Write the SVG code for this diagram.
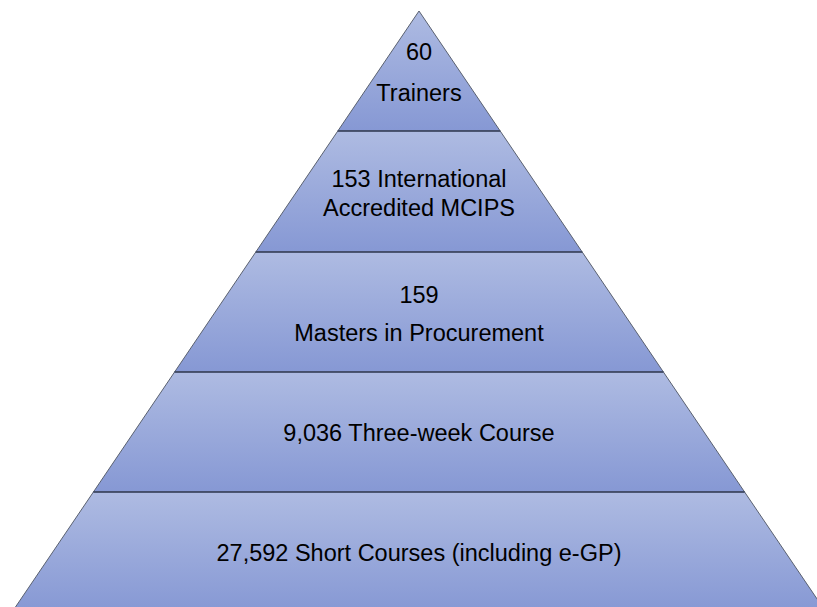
<svg xmlns="http://www.w3.org/2000/svg" width="817" height="607" viewBox="0 0 817 607">
<defs>
<linearGradient id="g" x1="0" y1="0" x2="0" y2="1">
<stop offset="0" stop-color="#AEBBE2"/>
<stop offset="1" stop-color="#8698D4"/>
</linearGradient>
<style>
.layer{fill:url(#g);stroke:#5A6170;stroke-width:1;stroke-linejoin:round}
.sep{stroke:#3A4560;stroke-width:1.6}
text{font-family:"Liberation Sans",Arial,sans-serif;font-size:23.5px;fill:#000;text-anchor:middle}
</style>
</defs>
<rect width="817" height="607" fill="#fff"/>
<g id="layer1"><polygon class="layer" points="419,11 500.2,131 337.8,131"/>
<text x="419" y="60">60</text><text x="419" y="101">Trainers</text></g>
<g id="layer2"><polygon class="layer" points="337.8,131 500.2,131 582.2,252 255.8,252"/>
<text x="419" y="187">153 International</text><text x="419" y="216">Accredited MCIPS</text></g>
<g id="layer3"><polygon class="layer" points="255.8,252 582.2,252 663.4,372 174.6,372"/>
<text x="419" y="303">159</text><text x="419" y="341">Masters in Procurement</text></g>
<g id="layer4"><polygon class="layer" points="174.6,372 663.4,372 744.6,492 93.4,492"/>
<text x="419" y="441">9,036 Three-week Course</text></g>
<g id="layer5"><polygon class="layer" points="93.4,492 744.6,492 825.9,612 12.1,612"/>
<text x="419" y="561">27,592 Short Courses (including e-GP)</text></g>
<g id="connectors">
<line class="sep" x1="337.8" y1="131" x2="500.2" y2="131"/>
<line class="sep" x1="255.8" y1="252" x2="582.2" y2="252"/>
<line class="sep" x1="174.6" y1="372" x2="663.4" y2="372"/>
<line class="sep" x1="93.4" y1="492" x2="744.6" y2="492"/>
</g>
</svg>
